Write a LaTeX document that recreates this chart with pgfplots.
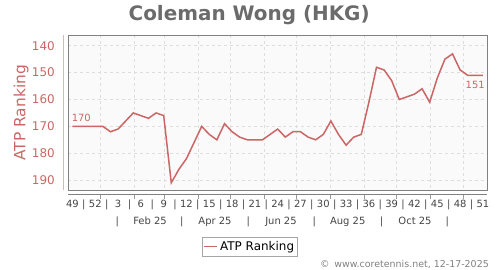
\documentclass[border=0pt]{standalone}
\usepackage{fontspec}
\setmainfont{DejaVu Sans}
\usepackage{pgfplots}
\pgfplotsset{compat=1.18}
\definecolor{rk}{HTML}{CC6666}
\definecolor{rkl}{HTML}{E4B4B4}
\definecolor{ttl}{HTML}{6B6B6B}
\definecolor{frm}{HTML}{808080}
\definecolor{grd}{HTML}{DDDDDD}
\definecolor{bg}{HTML}{FAFAFA}
\definecolor{lab}{HTML}{444444}
\tikzset{mlab/.style={anchor=base, inner sep=0pt, text=lab, font=\fontsize{10}{12}\selectfont, yshift=-29.3bp}}
\begin{document}
\begin{tikzpicture}
\path[use as bounding box] (0,0) rectangle (500bp,270bp);
\begin{axis}[
 at={(68.3bp,79.7bp)}, anchor=south west,
 scale only axis, width=419bp, height=155bp,
 xmin=-0.55, xmax=54.58, ymin=136.1, ymax=193.8, y dir=reverse,
 axis background/.style={fill=bg},
 axis line style={frm, line width=1.2bp},
 xtick={3.65,8.08,12.08,16.51,20.79,25.22,29.51,33.94,38.37,42.65,47.08,51.37},
 xticklabels={},
 ytick={140,150,...,190},
 major tick length=0pt,
 grid=major, major grid style={grd, dashed, line width=0.6bp},
 yticklabel style={rk, font=\fontsize{12}{14}\selectfont, inner sep=0pt, xshift=-13.3bp},
 /pgf/number format/assume math mode=true,
 ylabel={ATP Ranking},
 ylabel style={rk, font=\fontsize{15.5}{18}\selectfont, at={(axis description cs:-0.1124,0.5)}, anchor=center},
 title={Coleman Wong (HKG)},
 every axis title shift=0pt,
 title style={ttl, font=\fontsize{20}{24}\selectfont\bfseries, at={(axis description cs:0.4317,1.0942)}, anchor=base, inner sep=0pt},
 legend style={at={(axis description cs:0.433,-0.364)}, anchor=center, draw=frm!70, line width=0.8bp,
   font=\fontsize{12}{14}\selectfont, inner xsep=1.4bp, inner ysep=2bp,
   nodes={inner xsep=2bp, inner ysep=2.25bp, text=black}},
 legend image code/.code={\draw[#1] (0bp,0bp) -- (13.3bp,0bp);},
 clip=false,
]
\addplot[rk, line width=1.5bp] coordinates {
(0,170) (1,170) (2,170) (3,170) (4,170) (5,172) (6,171) (7,168) (8,165) (9,166)
(10,167) (11,165) (12,166) (13,191) (14,186) (15,182) (16,176) (17,170) (18,173) (19,175)
(20,169) (21,172) (22,174) (23,175) (24,175) (25,175) (26,173) (27,171) (28,174) (29,172)
(30,172) (31,174) (32,175) (33,173) (34,168) (35,173) (36,177) (37,174) (38,173) (39,161)
(40,148) (41,149) (42,153) (43,160) (44,159) (45,158) (46,156) (47,161) (48,152) (49,145)
(50,143) (51,149) (52,151) (53,151) (54,151)
};
\addlegendentry{ATP Ranking}
\node[rk, font=\fontsize{10}{12}\selectfont, anchor=south west, inner sep=0pt, xshift=-0.9bp, yshift=4.6bp] at (axis cs:0,170) {170};
\node[rk, font=\fontsize{10}{12}\selectfont, anchor=north east, inner sep=0pt, xshift=2bp, yshift=-5.3bp] at (axis cs:54,151) {151};
\end{axis}
\begin{axis}[
 at={(68.3bp,75bp)}, anchor=south west,
 scale only axis, width=419bp, height=10bp,
 xmin=-0.55, xmax=54.58, ymin=0, ymax=1,
 axis x line*=bottom, axis y line=none,
 axis line style={frm, line width=1bp},
 xtick={3.65,8.08,12.08,16.51,20.79,25.22,29.51,33.94,38.37,42.65,47.08,51.37},
 xticklabels={},
 tick align=outside, major tick length=4bp,
 tick style={frm!80, line width=0.6bp},
 extra x ticks={0,1.5,3,4.5,6,7.5,9,10.5,12,13.5,15,16.5,18,19.5,21,22.5,24,25.5,27,28.5,30,31.5,33,34.5,36,37.5,39,40.5,42,43.5,45,46.5,48,49.5,51,52.5,54},
 extra x tick labels={49,|,52,|,3,|,6,|,9,|,12,|,15,|,18,|,21,|,24,|,27,|,30,|,33,|,36,|,39,|,42,|,45,|,48,|,51},
 extra x tick style={major tick length=0pt, xticklabel style={anchor=base, yshift=-13bp, inner sep=0pt, text=lab, font=\fontsize{10}{12}\selectfont}},
 clip=false,
]
\node[mlab] at (axis cs:10.2,0) {Feb 25};
\node[mlab] at (axis cs:18.75,0) {Apr 25};
\node[mlab] at (axis cs:27.43,0) {Jun 25};
\node[mlab] at (axis cs:36.22,0) {Aug 25};
\node[mlab] at (axis cs:45.07,0) {Oct 25};
\node[mlab] at (axis cs:5.89,0) {|};
\node[mlab] at (axis cs:14.37,0) {|};
\node[mlab] at (axis cs:23.13,0) {|};
\node[mlab] at (axis cs:31.82,0) {|};
\node[mlab] at (axis cs:40.68,0) {|};
\node[mlab] at (axis cs:49.3,0) {|};
\end{axis}
\draw[rkl, line width=0.8bp] (63.3bp,79.7bp) -- (63.3bp,234.7bp);
\node[anchor=base east, inner sep=0pt, text=frm, font=\fontsize{9.5}{11}\selectfont] at (489bp,2.5bp) {©\, www.coretennis.net, 12-17-2025};
\end{tikzpicture}
\end{document}
